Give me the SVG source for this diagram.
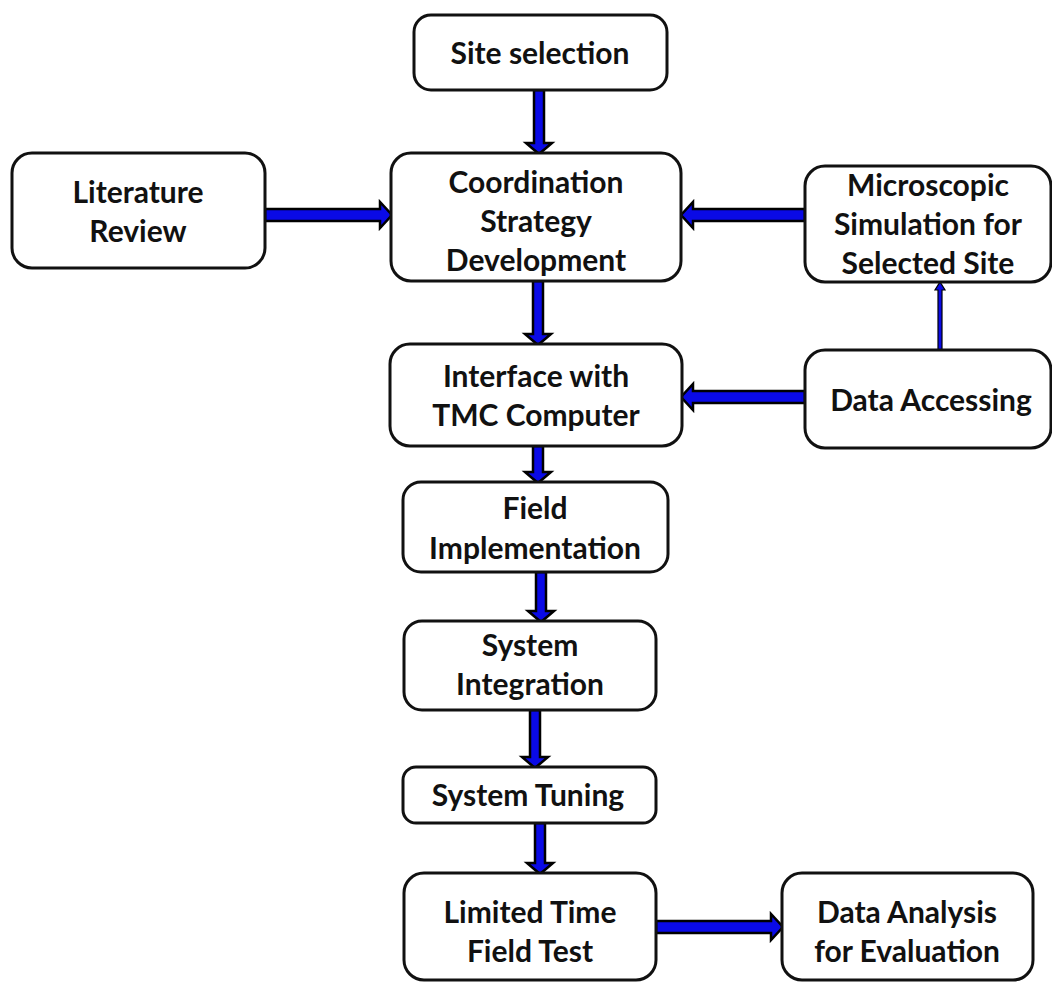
<svg xmlns="http://www.w3.org/2000/svg" width="1052" height="983" viewBox="0 0 1052 983">
<style>
.box{fill:#fff;stroke:#111;stroke-width:3}
.t{font-family:Lato,"Liberation Sans",sans-serif;font-weight:bold;font-size:30px;fill:#111;text-anchor:middle}
.ar{fill:#0a0ae6;stroke:#000;stroke-width:2.5;stroke-linejoin:miter}
.thin{fill:#0a0ae6;stroke:#000;stroke-width:1.2}
</style>
<rect width="1052" height="983" fill="#fff"/>
<g id="connectors">
<polygon class="ar" points="534,90 544,90 544,143 552,143 539,154 526,143 534,143"/>
<polygon class="ar" points="265,209 265,221 380,221 380,228 392,215 380,202 380,209"/>
<polygon class="ar" points="805,209 805,221 693,221 693,228 681,215 693,202 693,209"/>
<polygon class="ar" points="533,281 543,281 543,334 551,334 538,345 525,334 533,334"/>
<polygon class="thin" points="938,350 942,350 942,290 945,290 940,282 935,290 938,290"/>
<polygon class="ar" points="805,391 805,403 693,403 693,410 681,397 693,384 693,391"/>
<polygon class="ar" points="533,446 543,446 543,472 551,472 538,483 525,472 533,472"/>
<polygon class="ar" points="536,572 546,572 546,611 554,611 541,622 528,611 536,611"/>
<polygon class="ar" points="530,710 540,710 540,757 548,757 535,768 522,757 530,757"/>
<polygon class="ar" points="535,823 545,823 545,863 553,863 540,874 527,863 535,863"/>
<polygon class="ar" points="656,921 656,933 771,933 771,940 783,927 771,914 771,921"/>
</g>
<g id="site"><rect class="box" x="414" y="15" width="253" height="75" rx="17"/><text class="t" x="540" y="64">Site selection</text></g>
<g id="lit"><rect class="box" x="12" y="153" width="253" height="115" rx="20"/><text class="t" x="138" y="203">Literature</text><text class="t" x="138" y="242">Review</text></g>
<g id="coord"><rect class="box" x="391" y="153" width="290" height="128" rx="20"/><text class="t" x="536" y="193">Coordination</text><text class="t" x="536" y="232">Strategy</text><text class="t" x="536" y="271">Development</text></g>
<g id="micro"><rect class="box" x="805" y="166" width="246" height="116" rx="20"/><text class="t" x="928" y="196">Microscopic</text><text class="t" x="928" y="235">Simulation for</text><text class="t" x="928" y="274">Selected Site</text></g>
<g id="iface"><rect class="box" x="390" y="344" width="292" height="102" rx="20"/><text class="t" x="536" y="387">Interface with</text><text class="t" x="536" y="426">TMC Computer</text></g>
<g id="data"><rect class="box" x="805" y="350" width="246" height="98" rx="20"/><text class="t" x="931" y="411">Data Accessing</text></g>
<g id="field"><rect class="box" x="403" y="482" width="265" height="90" rx="18"/><text class="t" x="535" y="519">Field</text><text class="t" x="535" y="559">Implementation</text></g>
<g id="sysint"><rect class="box" x="404" y="621" width="252" height="89" rx="18"/><text class="t" x="530" y="656">System</text><text class="t" x="530" y="695">Integration</text></g>
<g id="tuning"><rect class="box" x="403" y="767" width="253" height="56" rx="13"/><text class="t" x="528" y="806">System Tuning</text></g>
<g id="limited"><rect class="box" x="404" y="873" width="252" height="107" rx="20"/><text class="t" x="530" y="923">Limited Time</text><text class="t" x="530" y="962">Field Test</text></g>
<g id="analysis"><rect class="box" x="782" y="873" width="251" height="107" rx="20"/><text class="t" x="907" y="923">Data Analysis</text><text class="t" x="907" y="962">for Evaluation</text></g>
</svg>
